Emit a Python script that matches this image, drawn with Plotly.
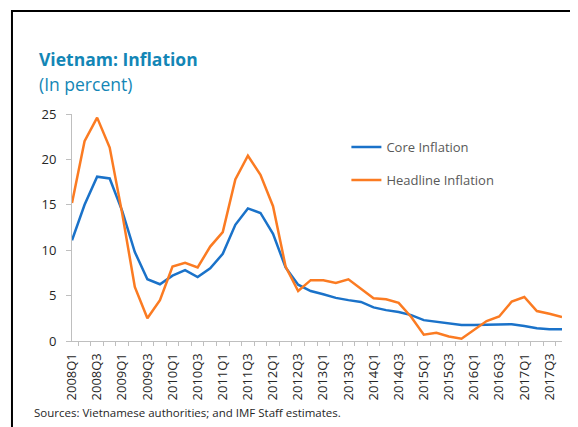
import plotly.graph_objects as go

quarters = [f"{y}Q{q}" for y in range(2008, 2018) for q in range(1, 5)]
tick_text = [q if q.endswith(("Q1", "Q3")) else "" for q in quarters]

core = [11.1, 15.0, 18.1, 17.9, 14.3, 9.8, 6.8, 6.25, 7.2, 7.8,
        7.05, 8.0, 9.6, 12.8, 14.6, 14.1, 11.8, 8.1, 6.2, 5.5,
        5.15, 4.75, 4.5, 4.3, 3.7, 3.4, 3.2, 2.85, 2.3, 2.1,
        1.95, 1.75, 1.75, 1.8, 1.8, 1.85, 1.65, 1.4, 1.3, 1.3]
headline = [15.2, 22.0, 24.6, 21.3, 14.0, 5.95, 2.5, 4.5, 8.2, 8.6,
            8.1, 10.4, 12.0, 17.8, 20.4, 18.3, 14.85, 8.2, 5.5, 6.7,
            6.7, 6.4, 6.8, 5.75, 4.7, 4.6, 4.2, 2.65, 0.7, 0.9,
            0.5, 0.25, 1.2, 2.2, 2.7, 4.35, 4.85, 3.3, 3.0, 2.65]

title_color = "#1386b6"
font_family = "Open Sans"

fig = go.Figure()
fig.add_trace(go.Scatter(x=quarters, y=core, mode="lines", name="Core Inflation",
                         line=dict(color="#1a72c9", width=2.5), legendgroup="a"))
fig.add_trace(go.Scatter(x=quarters, y=headline, mode="lines", name="Headline Inflation",
                         line=dict(color="#fb7b22", width=2.5), legendgroup="b"))

# The page body has an 8px default margin, so the figure is 8px smaller
fig.update_layout(
    width=570, height=419,
    margin=dict(l=64, r=16, t=106, b=86),
    paper_bgcolor="white", plot_bgcolor="white",
    font=dict(family=font_family, size=12, color="#262626"),
    showlegend=True,
    legend=dict(x=0.56, y=0.92, xanchor="left", yanchor="top",
                font=dict(size=13, color="#595959"), bgcolor="rgba(0,0,0,0)",
                traceorder="grouped", tracegroupgap=13, itemwidth=30),
    xaxis=dict(type="category", categoryorder="array", categoryarray=quarters,
               tickmode="array", tickvals=quarters, ticktext=tick_text,
               tickangle=-90, tickson="boundaries", ticks="outside", ticklen=4,
               tickcolor="#bfbfbf", showline=True, linecolor="#bfbfbf", linewidth=1,
               showgrid=False, tickfont=dict(size=13, color="#262626"),
               ticklabelstandoff=6),
    yaxis=dict(range=[0, 25], tickmode="array", tickvals=[0, 5, 10, 15, 20, 25],
               ticks="outside", ticklen=5, tickcolor="#bfbfbf", showline=True,
               linecolor="#bfbfbf", linewidth=1, showgrid=False, zeroline=False,
               tickfont=dict(size=13, color="#262626"), ticklabelstandoff=7),
)

fig.add_annotation(text="<b>Vietnam: Inflation</b>", xref="paper", yref="paper",
                   x=-0.072, y=1.242, xanchor="left", yanchor="middle", showarrow=False,
                   font=dict(size=17.5, color=title_color, family=font_family))
fig.add_annotation(text="(In percent)", xref="paper", yref="paper",
                   x=-0.072, y=1.13, xanchor="left", yanchor="middle", showarrow=False,
                   font=dict(size=17.5, color=title_color, family=font_family))
fig.add_annotation(text="Sources: Vietnamese authorities; and IMF Staff estimates.",
                   xref="paper", yref="paper", x=-0.082, y=-0.316, xanchor="left",
                   yanchor="middle", showarrow=False,
                   font=dict(size=11.5, color="#262626", family=font_family))

fig.add_shape(type="rect", xref="paper", yref="paper",
              x0=-0.1225, y0=1.4537, x1=1.2, y1=-0.6,
              line=dict(color="black", width=2), fillcolor="rgba(0,0,0,0)", layer="above")

fig.write_html("out.html")
